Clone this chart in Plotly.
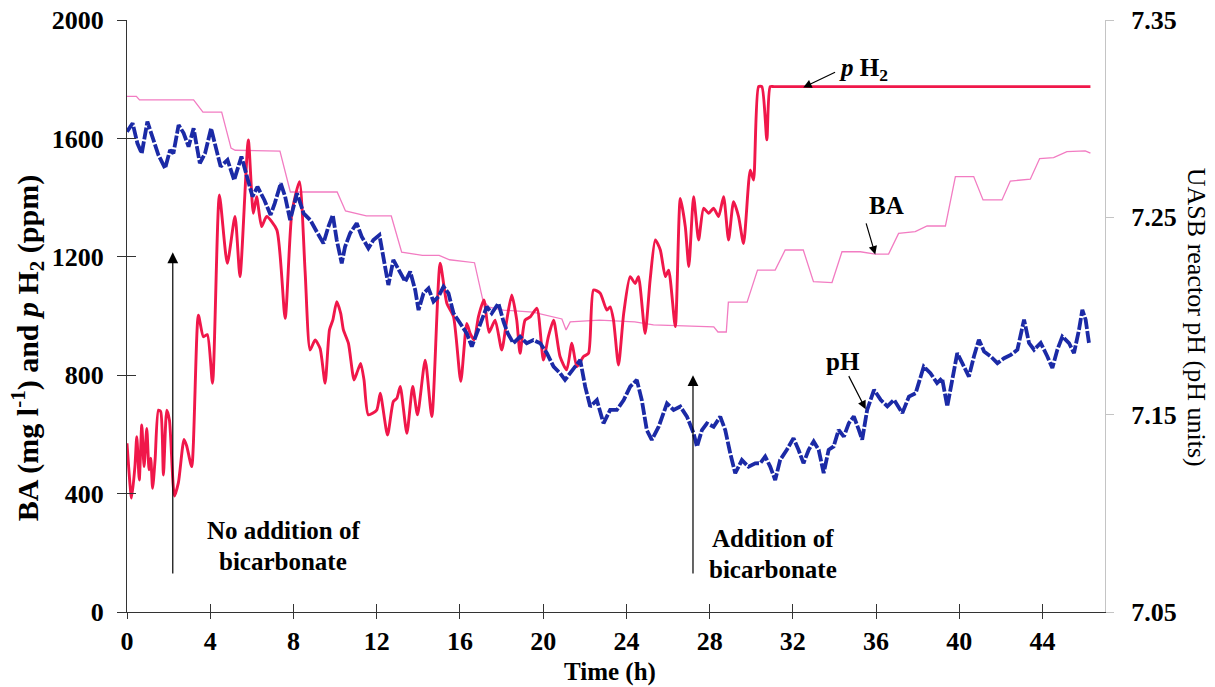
import plotly.graph_objects as go

# ---------------- data ----------------
h2_time = [0.0, 0.22, 0.38, 0.47, 0.59, 0.71, 0.82, 0.95, 1.06, 1.14, 1.23, 1.35, 1.51, 1.62, 1.75,
           1.91, 2.04, 2.28, 2.47, 2.74, 2.87, 3.11, 3.43, 3.67, 3.86, 4.11, 4.44, 4.82, 5.19, 5.43,
           5.83, 6.07, 6.23, 6.47, 6.71, 7.2, 7.6, 7.92, 8.29, 8.56, 8.8, 9.04, 9.28, 9.52, 9.73,
           9.89, 10.08, 10.27, 10.4, 10.64, 10.91, 11.04, 11.23, 11.39, 11.6, 12.0, 12.17, 12.52,
           12.8, 12.97, 13.13, 13.45, 13.73, 13.96, 14.33, 14.65, 15.05, 15.37, 15.69, 16.04, 16.33,
           16.49, 16.68, 16.89, 17.15, 17.4, 17.69, 18.01, 18.25, 18.49, 18.73, 18.89, 19.13, 19.38,
           19.7, 20.01, 20.25, 20.5, 20.81, 21.13, 21.38, 21.62, 21.94, 22.18, 22.42, 22.74, 23.06,
           23.22, 23.38, 23.62, 23.87, 24.18, 24.42, 24.58, 24.9, 25.14, 25.39, 25.63, 25.87, 26.03,
           26.35, 26.59, 26.83, 27.0, 27.23, 27.47, 27.71, 27.95, 28.19, 28.43, 28.67, 28.91, 29.15,
           29.39, 29.63, 29.95, 30.11, 30.35, 30.51, 30.75, 30.91, 31.1, 46.3]
h2_ppm = [570, 385, 491, 592, 446, 632, 491, 620, 480, 520, 418, 514, 682, 677, 463,
          682, 648, 392, 437, 583, 561, 491, 1003, 930, 937, 773, 1409, 1178, 1336, 1133,
          1595, 1347, 1403, 1302, 1336, 1291, 992, 1347, 1454, 1150, 885, 919, 890, 773, 953,
          986, 1048, 1009, 953, 908, 784, 806, 840, 784, 666, 682, 739, 598,
          711, 722, 762, 604, 762, 666, 851, 660, 1178, 1043, 998, 779, 975,
          941, 919, 998, 1054, 945, 986, 885, 986, 1071, 986, 874, 986, 997,
          1026, 851, 930, 986, 863, 818, 908, 829, 863, 874, 1088, 1077, 1020,
          1031, 986, 834, 1009, 1133, 1110, 1133, 941, 1122, 1257, 1223, 1133, 1155,
          964, 1397, 1302, 1167, 1403, 1257, 1364, 1347, 1364, 1336, 1403, 1257, 1386,
          1336, 1245, 1493, 1459, 1775, 1775, 1595, 1775, 1775, 1775]

ba_time = [0.0, 0.45, 0.6, 3.2, 3.65, 4.55, 5.0, 5.2, 7.35, 7.85, 10.1, 10.5, 11.5, 12.7, 13.2,
           14.2, 15.0, 15.5, 16.7, 17.1, 17.4, 18.1, 19.5, 20.5, 20.9, 21.1, 21.3, 22.7, 24.4,
           25.3, 28.2, 28.4, 28.8, 28.9, 29.8, 30.3, 31.15, 31.63, 32.5, 32.99, 33.88, 34.36,
           35.24, 35.96, 36.6, 37.08, 37.88, 38.45, 39.33, 39.81, 40.69, 41.14, 42.05, 42.45,
           43.41, 43.86, 44.53, 45.17, 46.05, 46.3]
ba_mgl = [1742, 1742, 1730, 1730, 1689, 1689, 1567, 1560, 1557, 1419, 1419, 1355, 1338, 1338, 1216,
          1205, 1205, 1190, 1180, 1054, 1030, 1020, 1013, 997, 990, 953, 980, 986, 980,
          970, 963, 946, 946, 1047, 1047, 1155, 1155, 1223, 1223, 1116, 1113, 1217,
          1217, 1209, 1209, 1279, 1285, 1304, 1304, 1471, 1471, 1392, 1392, 1456,
          1462, 1532, 1535, 1555, 1558, 1550]

ph_time = [0, 0.27, 0.5, 0.71, 0.98, 1.2, 1.51, 1.83, 2.07, 2.23, 2.48, 2.72, 2.96, 3.2, 3.5, 3.75,
           4.04, 4.34, 4.5, 4.83, 5.15, 5.5, 5.8, 6.03, 6.27, 6.6, 6.9, 7.1, 7.39, 7.6, 7.84, 8.17,
           8.49, 8.81, 9.12, 9.44, 9.68, 9.89, 10.08, 10.32, 10.48, 10.72, 11.04, 11.28, 11.6,
           11.84, 12.13, 12.32, 12.56, 12.8, 13.13, 13.37, 13.61, 13.85, 14.01, 14.25, 14.49,
           14.73, 14.97, 15.21, 15.45, 15.69, 16.01, 16.33, 16.57, 16.81, 17.05, 17.29, 17.53,
           17.85, 18.1, 18.3, 18.57, 18.89, 19.21, 19.53, 19.86, 20.18, 20.5, 20.81, 21.05, 21.3,
           21.62, 21.78, 22.02, 22.26, 22.58, 22.9, 23.22, 23.54, 23.87, 24.18, 24.5, 24.74,
           24.98, 25.22, 25.55, 25.95, 26.27, 26.59, 26.91, 27.23, 27.39, 27.63, 27.87, 28.19,
           28.51, 28.75, 28.99, 29.23, 29.55, 29.87, 30.19, 30.43, 30.67, 30.91, 31.15, 31.39,
           31.71, 32.03, 32.27, 32.51, 32.76, 33.0, 33.24, 33.48, 33.72, 33.96, 34.2, 34.45,
           34.69, 34.93, 35.17, 35.33, 35.57, 35.9, 36.22, 36.54, 36.86, 37.26, 37.58, 37.9,
           38.29, 38.61, 38.93, 39.17, 39.42, 39.61, 39.9, 40.14, 40.46, 40.7, 40.94, 41.19,
           41.51, 41.83, 42.15, 42.47, 42.79, 43.11, 43.35, 43.59, 43.91, 44.23, 44.47, 44.71,
           44.95, 45.27, 45.51, 45.75, 45.91, 46.07, 46.23]
ph_val = [7.2934, 7.2977, 7.2875, 7.2824, 7.2985, 7.2909, 7.2816, 7.2748, 7.2841, 7.2824, 7.2968,
          7.2927, 7.2858, 7.2951, 7.2774, 7.2824, 7.2951, 7.2824, 7.2757, 7.2791, 7.2689, 7.2808,
          7.2689, 7.2605, 7.2655, 7.2588, 7.2512, 7.2571, 7.2672, 7.2605, 7.2486, 7.2622, 7.2520,
          7.2486, 7.2427, 7.2368, 7.2453, 7.2512, 7.2385, 7.2267, 7.2351, 7.2419, 7.2470, 7.2402,
          7.2343, 7.2385, 7.2410, 7.2301, 7.2157, 7.2284, 7.2216, 7.2174, 7.2225, 7.2132, 7.2030,
          7.2115, 7.2140, 7.2073, 7.2098, 7.2149, 7.2115, 7.2014, 7.1963, 7.1912, 7.1845, 7.1912,
          7.1980, 7.2047, 7.2014, 7.2064, 7.1970, 7.1912, 7.1862, 7.1895, 7.1862, 7.1878, 7.1862,
          7.1811, 7.1743, 7.1710, 7.1676, 7.1710, 7.1760, 7.1777, 7.1642, 7.1541, 7.1574, 7.1456,
          7.1524, 7.1524, 7.1574, 7.1642, 7.1676, 7.1574, 7.1422, 7.1372, 7.1439, 7.1557, 7.1524,
          7.1541, 7.1490, 7.1406, 7.1338, 7.1422, 7.1456, 7.1439, 7.1490, 7.1422, 7.1304, 7.1203,
          7.1270, 7.1236, 7.1253, 7.1254, 7.1288, 7.1237, 7.1169, 7.1271, 7.1322, 7.1381, 7.1322,
          7.1254, 7.1322, 7.1364, 7.1322, 7.1204, 7.1322, 7.1339, 7.1423, 7.1389, 7.1457, 7.1491,
          7.1423, 7.1373, 7.1524, 7.1626, 7.1575, 7.1542, 7.1575, 7.1508, 7.1592, 7.1609, 7.1744,
          7.1710, 7.1660, 7.1685, 7.1542, 7.1643, 7.1812, 7.1761, 7.1693, 7.1795, 7.1880, 7.1820,
          7.1795, 7.1761, 7.1786, 7.1803, 7.1829, 7.1981, 7.1863, 7.1829, 7.1863, 7.1795, 7.1736,
          7.1829, 7.1896, 7.1863, 7.1812, 7.1930, 7.2031, 7.1981, 7.1863]

x_ticks = [0, 4, 8, 12, 16, 20, 24, 28, 32, 36, 40, 44]
left_ticks = [0, 400, 800, 1200, 1600, 2000]
right_ticks = [7.05, 7.15, 7.25, 7.35]

# ---------------- figure ----------------
SERIF = "Liberation Serif"
fig = go.Figure()

fig.add_trace(go.Scatter(x=ba_time, y=ba_mgl, mode="lines", name="BA",
                         line=dict(color="#f27cc2", width=1.3), yaxis="y", xaxis="x"))
fig.add_trace(go.Scatter(x=h2_time, y=h2_ppm, mode="lines", name="pH2",
                         line=dict(color="#f0174a", width=2.9, shape="spline", smoothing=0.6),
                         yaxis="y", xaxis="x"))
fig.add_trace(go.Scatter(x=ph_time, y=ph_val, mode="lines", name="pH",
                         line=dict(color="#1b2aa6", width=3.8, dash="12px,2px"),
                         yaxis="y2", xaxis="x"))
# dummy trace for the overlay axes that draw the inner half of crossing ticks
fig.add_trace(go.Scatter(x=[None], y=[None], xaxis="x2", yaxis="y3", showlegend=False,
                         hoverinfo="skip"))

tickfont = dict(family=SERIF, size=26, color="black", weight="bold")

fig.update_layout(
    width=1215, height=687,
    margin=dict(l=127, r=110, t=20, b=75),
    paper_bgcolor="white", plot_bgcolor="white",
    showlegend=False,
    xaxis=dict(range=[0, 47], tickvals=x_ticks, ticks="outside", ticklen=6, tickwidth=1.2,
               tickcolor="#333", showline=True, linecolor="#333", linewidth=1.2,
               showgrid=False, zeroline=False, tickfont=tickfont, anchor="y",
               ticklabeloverflow="allow", automargin=False),
    xaxis2=dict(range=[0, 47], tickvals=x_ticks, ticks="inside", ticklen=8, tickwidth=1.2,
                tickcolor="#333", showline=False, showgrid=False, zeroline=False,
                showticklabels=False, overlaying="x", anchor="y", automargin=False),
    yaxis=dict(range=[0, 2000], tickvals=left_ticks, ticks="outside", ticklen=9, tickwidth=1.2,
               tickcolor="#333", showline=True, linecolor="#333", linewidth=1.2,
               showgrid=False, zeroline=False, tickfont=tickfont, ticklabelstandoff=8,
               ticklabeloverflow="allow", automargin=False),
    yaxis3=dict(range=[0, 2000], tickvals=left_ticks, ticks="inside", ticklen=9, tickwidth=1.2,
                tickcolor="#333", showline=False, showgrid=False, zeroline=False,
                showticklabels=False, overlaying="y", side="left", anchor="x",
                automargin=False),
    yaxis2=dict(range=[7.05, 7.35], tickvals=right_ticks,
                ticktext=[f"{v:.2f}" for v in right_ticks], overlaying="y", side="right",
                anchor="x", ticks="outside", ticklen=8, tickcolor="#c4c4c4", showline=True,
                linecolor="#c4c4c4", linewidth=1.2, showgrid=False, zeroline=False,
                tickfont=tickfont, ticklabelstandoff=12, ticklabeloverflow="allow",
                automargin=False),
)

bold = dict(family=SERIF, size=25, color="black", weight="bold")

# axis titles
fig.add_annotation(xref="paper", yref="paper", x=0.494, y=-0.101, xanchor="center",
                   yanchor="middle", showarrow=False, text="Time (h)",
                   font=dict(family=SERIF, size=25, color="black", weight="bold"))
fig.add_annotation(xref="paper", yref="paper", x=-0.101, y=0.446, xanchor="center",
                   yanchor="middle", showarrow=False, textangle=-90,
                   text="BA (mg l<sup>-1</sup>) and <i>p</i> H<sub>2</sub> (ppm)",
                   font=dict(family=SERIF, size=30, color="black", weight="bold"))
fig.add_annotation(xref="paper", yref="paper", x=1.093, y=0.497, xanchor="center",
                   yanchor="middle", showarrow=False, textangle=90,
                   text="UASB reactor pH (pH units)",
                   font=dict(family=SERIF, size=26, color="black"))

# bicarbonate arrows and texts
arrow = dict(showarrow=True, arrowhead=2, arrowsize=1.8, arrowwidth=1.2, arrowcolor="black",
             axref="x", ayref="y", xref="x", yref="y", text="")
fig.add_annotation(x=2.2, y=1215, ax=2.2, ay=125, **arrow)
fig.add_annotation(x=27.2, y=800, ax=27.2, ay=125, **arrow)
for txt, tx, ty in [("No addition of", 7.5, 277), ("bicarbonate", 7.5, 172),
                    ("Addition of", 31.06, 247), ("bicarbonate", 31.06, 145)]:
    fig.add_annotation(x=tx, y=ty, xref="x", yref="y", text=txt, showarrow=False, font=bold)

# series labels
small_arrow = dict(showarrow=True, arrowhead=2, arrowsize=1.4, arrowwidth=1.2, arrowcolor="black",
                   axref="x", xref="x", text="")
fig.add_annotation(x=32.5, y=1772, ax=34.1, ay=1826, yref="y", ayref="y", **small_arrow)
fig.add_annotation(x=34.1, y=1832, xref="x", yref="y", xanchor="left", showarrow=False,
                   text="<i>p</i> H<sub>2</sub>", font=bold)
fig.add_annotation(x=35.96, y=1208, ax=35.5, ay=1318, yref="y", ayref="y", **small_arrow)
fig.add_annotation(x=36.5, y=1375, xref="x", yref="y", showarrow=False, text="BA", font=bold)
fig.add_annotation(x=35.5, y=7.1528, ax=34.65, ay=7.1703, yref="y2", ayref="y2", **small_arrow)
fig.add_annotation(x=34.4, y=7.1768, xref="x", yref="y2", showarrow=False, text="pH", font=bold)

# remove the browser's default 8px body margin so the figure fills the window exactly
fig.write_html("out.html", config={"displayModeBar": False},
               post_script="document.body.style.margin='0';document.body.style.overflow='hidden';")
